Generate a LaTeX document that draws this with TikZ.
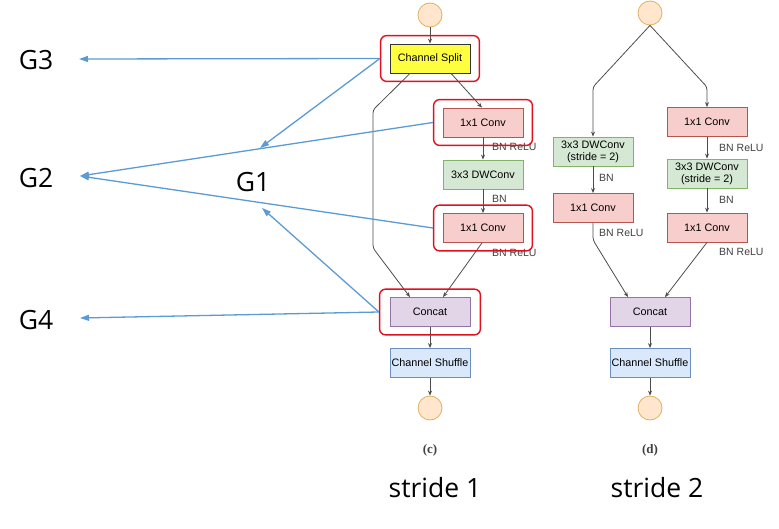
\documentclass[tikz,border=0pt]{standalone}
\usepackage{fontspec}
\setmainfont{Liberation Sans}
\newfontfamily\bigfont{Open Sans}
\newfontfamily\capfont{Liberation Serif}
\usetikzlibrary{arrows.meta,fit,positioning}

\definecolor{pinkfill}{HTML}{F8CECC}
\definecolor{pinkline}{HTML}{B85450}
\definecolor{greenfill}{HTML}{D5E8D4}
\definecolor{greenline}{HTML}{82B366}
\definecolor{purplefill}{HTML}{E1D5E7}
\definecolor{purpleline}{HTML}{9673A6}
\definecolor{bluefill}{HTML}{DAE8FC}
\definecolor{blueline}{HTML}{6C8EBF}
\definecolor{dotfill}{HTML}{FFE6CC}
\definecolor{dotline}{HTML}{E0B060}
\definecolor{splitfill}{HTML}{FFFF40}
\definecolor{splitline}{HTML}{333333}
\definecolor{markred}{HTML}{E0101E}
\definecolor{pointer}{HTML}{5B9BD5}

\tikzset{
  blk/.style={draw=#1line, fill=#1fill, line width=0.8pt, minimum width=80pt,
    minimum height=29pt, inner sep=1pt, align=center,
    font=\fontsize{10.8}{12}\selectfont},
  dot/.style={circle, draw=dotline, fill=dotfill, line width=0.8pt, minimum size=24pt, inner sep=0pt},
  conn/.style={draw=black!70, line width=0.8pt, rounded corners=3pt, -{Stealth[length=5pt,width=4pt]}},
  note/.style={anchor=west, inner sep=0pt, font=\fontsize{10.5}{12}\selectfont, text=black!75},
  redmark/.style={draw=markred, line width=1.4pt, rounded corners=6pt, inner xsep=9pt, inner ysep=8pt},
  pointarrow/.style={draw=pointer, line width=1.3pt, -{Triangle[length=9pt,width=6pt]}},
  glabel/.style={inner sep=0pt, font=\bigfont\fontsize{26.5}{28}\selectfont},
}

\begin{document}
\begin{tikzpicture}[x=1pt, y=-1pt]
  \useasboundingbox (0,0) rectangle (779,529);

  % stride 1
  \node[dot] (in1) at (430,15) {};
  \node[blk=split] (split) at (430,58.5) {Channel Split};
  \node[blk=pink] (convA) at (483,122.5) {1x1 Conv};
  \node[blk=green] (dwA) at (483,174.5) {3x3 DWConv};
  \node[blk=pink] (convB) at (483,228) {1x1 Conv};
  \node[blk=purple] (cat1) at (430,312) {Concat};
  \node[blk=blue] (shuf1) at (430,363) {Channel Shuffle};
  \node[dot] (out1) at (430,408) {};

  \node[note] at (492,147) {BN ReLU};
  \node[note] at (492,199) {BN};
  \node[note] at (492,253) {BN ReLU};

  \coordinate (byA) at (373,110);
  \coordinate (byB) at (373,248);

  \draw[conn] (in1) -- (split);
  \draw[conn] ([xshift=21pt]split.south) -- ([xshift=-1pt]convA.north);
  \draw[conn] ([xshift=-20pt]split.south) -- (byA) -- (byB) -- ([xshift=-20pt]cat1.north);
  \draw[conn] (convA) -- (dwA);
  \draw[conn] (dwA) -- (convB);
  \draw[conn] ([xshift=-1pt]convB.south) -- ([xshift=13pt]cat1.north);
  \draw[conn] (cat1) -- (shuf1);
  \draw[conn] (shuf1) -- (out1);

  % stride 2
  \node[dot] (in2) at (650,13) {};
  \node[blk=green] (dwL) at (593,151.5) {3x3 DWConv\\(stride = 2)};
  \node[blk=pink] (convL) at (593,208) {1x1 Conv};
  \node[blk=pink] (convR) at (707,122) {1x1 Conv};
  \node[blk=green] (dwR) at (707,173.5) {3x3 DWConv\\(stride = 2)};
  \node[blk=pink] (convR2) at (707,227.5) {1x1 Conv};
  \node[blk=purple] (cat2) at (650,312) {Concat};
  \node[blk=blue] (shuf2) at (650,363) {Channel Shuffle};
  \node[dot] (out2) at (650,408) {};

  \node[note] at (599,178) {BN};
  \node[note] at (599,233) {BN ReLU};
  \node[note] at (719,148) {BN ReLU};
  \node[note] at (719,200) {BN};
  \node[note] at (719,252) {BN ReLU};

  \coordinate (brL) at (593,87);
  \coordinate (brR) at (707,87);
  \coordinate (brL2) at (593,240);

  \draw[conn] (in2.south) -- (brL) -- (dwL.north);
  \draw[conn] (in2.south) -- (brR) -- (convR.north);
  \draw[conn] (dwL) -- (convL);
  \draw[conn] (convR) -- (dwR);
  \draw[conn] (dwR) -- (convR2);
  \draw[conn] (convL.south) -- (brL2) -- ([xshift=-22pt]cat2.north);
  \draw[conn] (convR2.south) -- ([xshift=15pt]cat2.north);
  \draw[conn] (cat2) -- (shuf2);
  \draw[conn] (shuf2) -- (out2);

  % red marks
  \node[redmark, fit=(split)] (splitR) {};
  \node[redmark, fit=(convA)] (convAR) {};
  \node[redmark, fit=(convB)] (convBR) {};
  \node[redmark, fit=(cat1), inner xsep=10pt] (catR) {};

  % group labels
  \coordinate (tipG3) at (79,59);
  \coordinate (tipG2) at (80,176);
  \coordinate (tipG4) at (80,318);
  \coordinate (tipG1a) at (260,148);
  \coordinate (tipG1b) at (262,208);
  \node[glabel] (G3) at (36,60) {G3};
  \node[glabel] (G2) at (36,178) {G2};
  \node[glabel] (G1) at (253,182) {G1};
  \node[glabel] (G4) at (36,320) {G4};

  \draw[pointarrow] (splitR.west) -- (tipG3);
  \draw[pointarrow] (splitR.west) -- (tipG1a);
  \draw[pointarrow] (convAR.west) -- (tipG2);
  \draw[pointarrow] (convBR.west) -- (tipG2);
  \draw[pointarrow] (catR.west) -- (tipG1b);
  \draw[pointarrow] (catR.west) -- (tipG4);

  % captions
  \node[font=\capfont\bfseries\fontsize{13}{14}\selectfont, text=black!75] (capC) at (430,450) {(c)};
  \node[font=\capfont\bfseries\fontsize{13}{14}\selectfont, text=black!75] (capD) at (650,450) {(d)};
  \node[glabel] (s1) at (435,488) {stride 1};
  \node[glabel] (s2) at (657,488) {stride 2};
\end{tikzpicture}
\end{document}
